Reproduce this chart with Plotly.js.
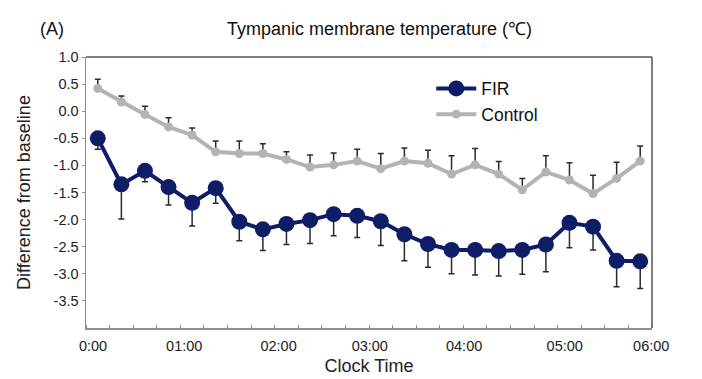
<!DOCTYPE html>
<html>
<head>
<meta charset="utf-8">
<script src="https://cdn.plot.ly/plotly-3.0.1.min.js"></script>
<style>html,body{margin:0;padding:0;background:#fff;}#chart{width:702px;height:379px;}</style>
</head>
<body>
<div id="chart"></div>
<script>
// Time points (minutes after start)
const timeMin = [0,15,30,45,60,75,90,105,120,135,150,165,180,195,210,225,240,255,270,285,300,315,330,345];
// FIR group: mean difference from baseline and SD (drawn downward)
const firMean = [-0.50,-1.35,-1.10,-1.40,-1.69,-1.42,-2.04,-2.18,-2.08,-2.01,-1.90,-1.93,-2.03,-2.27,-2.45,-2.56,-2.56,-2.58,-2.56,-2.46,-2.06,-2.13,-2.76,-2.77];
const firErr  = [0.20,0.64,0.20,0.33,0.43,0.28,0.35,0.39,0.38,0.43,0.40,0.40,0.45,0.49,0.43,0.44,0.46,0.46,0.45,0.50,0.46,0.43,0.48,0.50];
// Control group: mean and SD (drawn upward)
const ctlMean = [0.42,0.17,-0.06,-0.29,-0.44,-0.75,-0.78,-0.78,-0.89,-1.03,-0.99,-0.92,-1.06,-0.92,-0.96,-1.16,-0.99,-1.16,-1.45,-1.12,-1.27,-1.52,-1.24,-0.92];
const ctlErr  = [0.17,0.11,0.15,0.17,0.13,0.20,0.23,0.18,0.14,0.22,0.22,0.22,0.28,0.24,0.24,0.34,0.30,0.23,0.21,0.30,0.32,0.34,0.30,0.28];
// Tick labels
const yTickVals = [1.0,0.5,0.0,-0.5,-1.0,-1.5,-2.0,-2.5,-3.0,-3.5];
const yTickText = ["1.0","0.5","0.0","-0.5","-1.0","-1.5","-2.0","-2.5","-3.0","-3.5"];
const xTickVals = [-3,55,115,173,233,297,352];
const xTickText = ["0:00","01:00","02:00","03:00","04:00","05:00","06:00"];

const zeros = timeMin.map(() => 0);
const font = "Liberation Sans, Arial, Helvetica, sans-serif";

const traces = [
  {
    x: timeMin, y: firMean, name: "FIR", type: "scatter", mode: "lines+markers",
    line: {color: "#0f1c66", width: 4},
    marker: {color: "#0f1c66", size: 16},
    error_y: {type: "data", symmetric: false, array: zeros, arrayminus: firErr,
              color: "#2a2a2a", thickness: 1.5, width: 3}
  },
  {
    x: timeMin, y: ctlMean, name: "Control", type: "scatter", mode: "lines+markers",
    line: {color: "#b3b3b3", width: 4},
    marker: {color: "#b3b3b3", size: 9},
    error_y: {type: "data", symmetric: false, array: ctlErr, arrayminus: zeros,
              color: "#2a2a2a", thickness: 1.5, width: 3}
  }
];

const layout = {
  width: 702, height: 379,
  margin: {l: 86, r: 50, t: 57, b: 50.5},
  paper_bgcolor: "#fff", plot_bgcolor: "#fff",
  font: {family: font, color: "#222", size: 14},
  showlegend: true,
  legend: {x: 0.61, y: 0.95, xanchor: "left", yanchor: "top",
           font: {family: font, size: 17.5, color: "#111"}, bgcolor: "rgba(0,0,0,0)",
           itemwidth: 40, tracegroupgap: 2},
  xaxis: {
    range: [-7.5, 352.5], showgrid: false, zeroline: false,
    showline: true, linecolor: "#8f8f8f", linewidth: 1.5,
    tickmode: "array", tickvals: xTickVals, ticktext: xTickText, ticks: "",
    ticklabelstandoff: 4,
    tickfont: {family: font, size: 14.5, color: "#222"},
    minor: {ticks: "inside", ticklen: 3, tickcolor: "#8f8f8f", tickwidth: 1,
            tickmode: "linear", tick0: -7.5, dtick: 15, showgrid: false},
    title: {text: "Clock Time", font: {family: font, size: 18, color: "#222"}, standoff: 6}
  },
  yaxis: {
    range: [-4, 1], showgrid: false, zeroline: false,
    showline: true, linecolor: "#8f8f8f", linewidth: 1.5,
    tickmode: "array", tickvals: yTickVals, ticktext: yTickText,
    ticks: "outside", ticklen: 3, tickcolor: "#8f8f8f",
    tickfont: {family: font, size: 14.5, color: "#222"},
    title: {text: "Difference from baseline", font: {family: font, size: 18, color: "#222"}, standoff: 18}
  },
  shapes: [
    {type: "line", xref: "paper", yref: "paper", x0: 0, x1: 1, y0: 1, y1: 1, line: {color: "#555", width: 1.5}},
    {type: "line", xref: "paper", yref: "paper", x0: 1, x1: 1, y0: 0, y1: 1, line: {color: "#555", width: 1.5}}
  ],
  annotations: [
    {text: "(A)", xref: "paper", yref: "paper", x: -0.085, y: 1.105, xanchor: "left", yanchor: "middle",
     showarrow: false, font: {family: font, size: 18, color: "#111"}},
    {text: "Tympanic membrane temperature (\u2103)", xref: "paper", yref: "paper", x: 0.519, y: 1.105,
     xanchor: "center", yanchor: "middle", showarrow: false, font: {family: font, size: 18, color: "#111"}}
  ]
};

Plotly.newPlot("chart", traces, layout, {staticPlot: true, displayModeBar: false});
</script>
</body>
</html>
